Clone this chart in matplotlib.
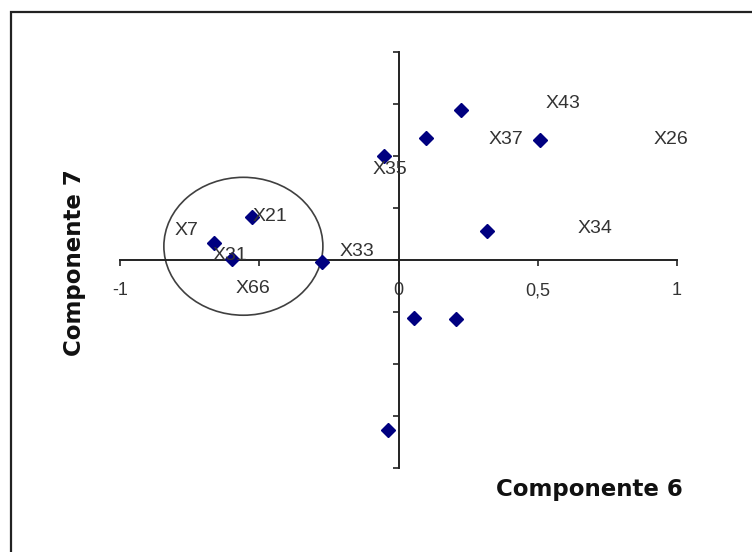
import matplotlib
matplotlib.use('Agg')
from matplotlib import pyplot as plt
from matplotlib.patches import Ellipse, Rectangle
import numpy as np

# coordenadas dos pontos (componente 6, componente 7)
comp6 = [-0.664, -0.597, -0.525, -0.274, -0.053, 0.097, 0.225, 0.509, 0.317, 0.057, 0.205, -0.038]
comp7 = [0.080, 0.005, 0.209, -0.011, 0.500, 0.585, 0.721, 0.577, 0.139, -0.277, -0.284, -0.816]

# rótulos das variáveis, como aparecem no gráfico
label_names = ['X7', 'X21', 'X31', 'X66', 'X33', 'X35', 'X43', 'X37', 'X26', 'X34']
label_x = [-0.762, -0.463, -0.605, -0.523, -0.151, -0.029, 0.592, 0.384, 0.979, 0.707]
label_y = [0.144, 0.209, 0.024, -0.136, 0.040, 0.433, 0.753, 0.577, 0.577, 0.152]

x_ticks = [-1, -0.5, 0, 0.5, 1]
x_tick_labels = ['-1', '', '0', '0,5', '1']
y_ticks = np.arange(-1, 1.01, 0.25)

W, H = 752, 552
fig = plt.figure(figsize=(W / 100, H / 100), dpi=100)
fig.patch.set_facecolor('white')

ax = fig.add_axes([120 / W, (H - 468) / H, 557 / W, 416 / H])
ax.set_xlim(-1, 1)
ax.set_ylim(-1, 1)

# eixos cruzando na origem
ax.spines['left'].set_position(('data', 0))
ax.spines['bottom'].set_position(('data', 0))
ax.spines['top'].set_visible(False)
ax.spines['right'].set_visible(False)
for s in ('left', 'bottom'):
    ax.spines[s].set_linewidth(1.4)
    ax.spines[s].set_color('#222222')

ax.set_xticks(x_ticks)
ax.set_xticklabels(x_tick_labels, family='Liberation Sans', fontsize=13, color='#333333')
ax.set_yticks(y_ticks)
ax.set_yticklabels([])
ax.tick_params(axis='both', direction='out', length=4, width=1.2, color='#222222')
ax.tick_params(axis='x', pad=12)
ax.set_facecolor('none')

ax.plot(comp6, comp7, linestyle='none', marker='D', markersize=7,
        color='#000080', zorder=3)

for name, lx, ly in zip(label_names, label_x, label_y):
    ax.text(lx, ly, name, ha='center', va='center', fontsize=14,
            family='Liberation Sans', color='#333333', zorder=4)

# círculo destacando o grupo
ax.add_patch(Ellipse((-0.557, 0.066), 0.571, 0.663, fill=False,
                     edgecolor='#404040', linewidth=1.2, zorder=2))

fig.text(589.5 / W, (H - 496) / H, 'Componente 6', ha='center', va='baseline',
         fontsize=16.5, fontweight='bold', color='#111111')
fig.text(74 / W, 1 - 262.5 / H, 'Componente 7', ha='center', va='center',
         rotation=90, fontsize=16.5, fontweight='bold', color='#111111')

# moldura do gráfico
fig.add_artist(Rectangle((10.5 / W, -0.05), 2, (H - 12) / H + 0.05,
                         transform=fig.transFigure, fill=False,
                         edgecolor='#222222', linewidth=1.6))

fig.savefig('out.png', dpi=100)
